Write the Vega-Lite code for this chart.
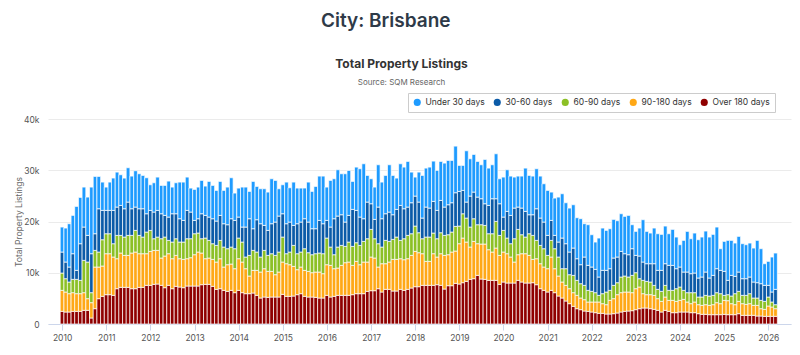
{
"$schema":"https://vega.github.io/schema/vega-lite/v6.json",
"background":"white",
"padding":{"left":14,"top":11,"right":5,"bottom":6},
"title":{"text":"City: Brisbane","fontSize":19,"fontWeight":600,"font":"Inter","color":"#2e3a48","anchor":"middle","offset":27.5,"dx":-17},
"config":{"view":{"stroke":null},"font":"Inter"},
"datasets":{
"series":[{"k":"o180","label":"Over 180 days","rank":1},{"k":"d90","label":"90-180 days","rank":2},{"k":"d60","label":"60-90 days","rank":3},{"k":"d30","label":"30-60 days","rank":4},{"k":"u30","label":"Under 30 days","rank":5}],
"listings":[
{"date":"2010-01-01","o180":2470,"d90":4095,"d60":3380,"d30":4095,"u30":4875},
{"date":"2010-02-01","o180":2340,"d90":3900,"d60":2600,"d30":3250,"u30":6630},
{"date":"2010-03-01","o180":2340,"d90":3575,"d60":2275,"d30":2925,"u30":8450},
{"date":"2010-04-01","o180":2470,"d90":3640,"d60":2600,"d30":5005,"u30":7475},
{"date":"2010-05-01","o180":2470,"d90":3445,"d60":2795,"d30":1755,"u30":12480},
{"date":"2010-06-01","o180":2470,"d90":3445,"d60":2600,"d30":7150,"u30":9035},
{"date":"2010-07-01","o180":2665,"d90":3445,"d60":6305,"d30":6500,"u30":7800},
{"date":"2010-08-01","o180":2665,"d90":2275,"d60":7150,"d30":5200,"u30":7475},
{"date":"2010-09-01","o180":1170,"d90":2990,"d60":1950,"d30":7605,"u30":13000},
{"date":"2010-10-01","o180":2990,"d90":8125,"d60":3250,"d30":3250,"u30":11180},
{"date":"2010-11-01","o180":4940,"d90":6175,"d60":2925,"d30":8450,"u30":6305},
{"date":"2010-12-01","o180":5395,"d90":5915,"d60":5135,"d30":5720,"u30":5525},
{"date":"2011-01-01","o180":5720,"d90":7995,"d60":3900,"d30":4550,"u30":4550},
{"date":"2011-02-01","o180":5720,"d90":7995,"d60":3900,"d30":4550,"u30":5525},
{"date":"2011-03-01","o180":5590,"d90":7475,"d60":2600,"d30":6500,"u30":6305},
{"date":"2011-04-01","o180":6890,"d90":5850,"d60":4550,"d30":5525,"u30":6825},
{"date":"2011-05-01","o180":7150,"d90":6695,"d60":3445,"d30":5850,"u30":5980},
{"date":"2011-06-01","o180":7150,"d90":6240,"d60":3575,"d30":5525,"u30":5980},
{"date":"2011-07-01","o180":7150,"d90":6240,"d60":3900,"d30":6500,"u30":6695},
{"date":"2011-08-01","o180":6890,"d90":6955,"d60":3445,"d30":5200,"u30":6370},
{"date":"2011-09-01","o180":6890,"d90":7150,"d60":4225,"d30":4550,"u30":7085},
{"date":"2011-10-01","o180":7150,"d90":6565,"d60":3575,"d30":5200,"u30":6825},
{"date":"2011-11-01","o180":7150,"d90":6565,"d60":3250,"d30":5525,"u30":6500},
{"date":"2011-12-01","o180":7540,"d90":6175,"d60":4225,"d30":3575,"u30":7020},
{"date":"2012-01-01","o180":7540,"d90":6630,"d60":4095,"d30":3900,"u30":5005},
{"date":"2012-02-01","o180":7735,"d90":6630,"d60":2275,"d30":5200,"u30":5720},
{"date":"2012-03-01","o180":7800,"d90":6565,"d60":2600,"d30":5200,"u30":6500},
{"date":"2012-04-01","o180":7540,"d90":5330,"d60":3770,"d30":4875,"u30":5525},
{"date":"2012-05-01","o180":7085,"d90":6175,"d60":3705,"d30":4225,"u30":5850},
{"date":"2012-06-01","o180":7540,"d90":6175,"d60":2600,"d30":4550,"u30":7020},
{"date":"2012-07-01","o180":6890,"d90":5850,"d60":3250,"d30":5525,"u30":5200},
{"date":"2012-08-01","o180":7345,"d90":6045,"d60":3250,"d30":4875,"u30":6045},
{"date":"2012-09-01","o180":7215,"d90":5525,"d60":3250,"d30":4550,"u30":7150},
{"date":"2012-10-01","o180":7085,"d90":5525,"d60":3380,"d30":4225,"u30":7475},
{"date":"2012-11-01","o180":7410,"d90":5330,"d60":3900,"d30":5525,"u30":6500},
{"date":"2012-12-01","o180":7410,"d90":5525,"d60":3705,"d30":5200,"u30":4680},
{"date":"2013-01-01","o180":7410,"d90":6110,"d60":4095,"d30":2600,"u30":6045},
{"date":"2013-02-01","o180":7410,"d90":6630,"d60":3705,"d30":2795,"u30":6175},
{"date":"2013-03-01","o180":7670,"d90":6175,"d60":2795,"d30":4875,"u30":6500},
{"date":"2013-04-01","o180":7735,"d90":5005,"d60":4030,"d30":4420,"u30":5720},
{"date":"2013-05-01","o180":7735,"d90":5135,"d60":3445,"d30":4550,"u30":6955},
{"date":"2013-06-01","o180":7345,"d90":5265,"d60":3055,"d30":4875,"u30":6500},
{"date":"2013-07-01","o180":6760,"d90":5330,"d60":3250,"d30":4745,"u30":5980},
{"date":"2013-08-01","o180":6890,"d90":5850,"d60":3575,"d30":4875,"u30":6630},
{"date":"2013-09-01","o180":6565,"d90":4550,"d60":3900,"d30":4550,"u30":6500},
{"date":"2013-10-01","o180":6370,"d90":5200,"d60":3120,"d30":4680,"u30":7345},
{"date":"2013-11-01","o180":6565,"d90":5135,"d60":3315,"d30":5525,"u30":7995},
{"date":"2013-12-01","o180":6110,"d90":4680,"d60":3900,"d30":5525,"u30":5330},
{"date":"2014-01-01","o180":6565,"d90":6175,"d60":4030,"d30":4095,"u30":5655},
{"date":"2014-02-01","o180":6110,"d90":5980,"d60":3900,"d30":2925,"u30":7800},
{"date":"2014-03-01","o180":5915,"d90":4875,"d60":2275,"d30":5850,"u30":7800},
{"date":"2014-04-01","o180":5915,"d90":3445,"d60":4030,"d30":7150,"u30":5330},
{"date":"2014-05-01","o180":6045,"d90":4420,"d60":3900,"d30":4225,"u30":9230},
{"date":"2014-06-01","o180":5590,"d90":4875,"d60":3575,"d30":6305,"u30":6500},
{"date":"2014-07-01","o180":5070,"d90":5070,"d60":2925,"d30":6500,"u30":6825},
{"date":"2014-08-01","o180":5265,"d90":5525,"d60":3575,"d30":4875,"u30":7150},
{"date":"2014-09-01","o180":5200,"d90":5070,"d60":3120,"d30":4875,"u30":7475},
{"date":"2014-10-01","o180":5265,"d90":5005,"d60":3445,"d30":5850,"u30":8775},
{"date":"2014-11-01","o180":5265,"d90":4355,"d60":3770,"d30":6500,"u30":8125},
{"date":"2014-12-01","o180":5265,"d90":4875,"d60":3900,"d30":7020,"u30":5330},
{"date":"2015-01-01","o180":5785,"d90":6305,"d60":4875,"d30":4550,"u30":5655},
{"date":"2015-02-01","o180":5395,"d90":6370,"d60":1950,"d30":5850,"u30":8125},
{"date":"2015-03-01","o180":5395,"d90":6175,"d60":2470,"d30":5850,"u30":6695},
{"date":"2015-04-01","o180":5460,"d90":5785,"d60":4095,"d30":3900,"u30":8450},
{"date":"2015-05-01","o180":5720,"d90":4875,"d60":3120,"d30":5850,"u30":6955},
{"date":"2015-06-01","o180":5915,"d90":5200,"d60":2925,"d30":5850,"u30":6630},
{"date":"2015-07-01","o180":5395,"d90":5070,"d60":4225,"d30":5850,"u30":5980},
{"date":"2015-08-01","o180":5265,"d90":5005,"d60":3640,"d30":5980,"u30":7800},
{"date":"2015-09-01","o180":5265,"d90":4745,"d60":3510,"d30":5070,"u30":7280},
{"date":"2015-10-01","o180":5200,"d90":4940,"d60":3575,"d30":4875,"u30":8255},
{"date":"2015-11-01","o180":5070,"d90":5070,"d60":3705,"d30":6370,"u30":8645},
{"date":"2015-12-01","o180":5070,"d90":4745,"d60":3900,"d30":5850,"u30":9295},
{"date":"2016-01-01","o180":5590,"d90":5980,"d60":5200,"d30":3445,"u30":6500},
{"date":"2016-02-01","o180":5265,"d90":6175,"d60":3575,"d30":3900,"u30":9100},
{"date":"2016-03-01","o180":5395,"d90":5395,"d60":2730,"d30":7020,"u30":7800},
{"date":"2016-04-01","o180":5590,"d90":5330,"d60":4095,"d30":6045,"u30":9035},
{"date":"2016-05-01","o180":5590,"d90":5850,"d60":3900,"d30":5980,"u30":7995},
{"date":"2016-06-01","o180":5590,"d90":6370,"d60":3185,"d30":4745,"u30":9425},
{"date":"2016-07-01","o180":5590,"d90":6500,"d60":3900,"d30":5200,"u30":8775},
{"date":"2016-08-01","o180":5720,"d90":5720,"d60":3705,"d30":7215,"u30":5460},
{"date":"2016-09-01","o180":5915,"d90":6305,"d60":3640,"d30":6305,"u30":8450},
{"date":"2016-10-01","o180":5915,"d90":5655,"d60":3770,"d30":5525,"u30":9425},
{"date":"2016-11-01","o180":5915,"d90":6175,"d60":4030,"d30":4420,"u30":10725},
{"date":"2016-12-01","o180":6370,"d90":5720,"d60":4550,"d30":7150,"u30":5200},
{"date":"2017-01-01","o180":6500,"d90":6565,"d60":5395,"d30":5005,"u30":4875},
{"date":"2017-02-01","o180":6500,"d90":6370,"d60":3770,"d30":3770,"u30":6305},
{"date":"2017-03-01","o180":6890,"d90":4225,"d60":4550,"d30":7150,"u30":8255},
{"date":"2017-04-01","o180":6240,"d90":5525,"d60":3250,"d30":5525,"u30":7150},
{"date":"2017-05-01","o180":6760,"d90":5005,"d60":4550,"d30":5200,"u30":7475},
{"date":"2017-06-01","o180":6760,"d90":5330,"d60":4030,"d30":5720,"u30":9230},
{"date":"2017-07-01","o180":6435,"d90":6175,"d60":3900,"d30":4810,"u30":7670},
{"date":"2017-08-01","o180":6435,"d90":6175,"d60":4355,"d30":5395,"u30":6110},
{"date":"2017-09-01","o180":6760,"d90":5980,"d60":3575,"d30":6825,"u30":8125},
{"date":"2017-10-01","o180":6565,"d90":5980,"d60":4095,"d30":5850,"u30":8125},
{"date":"2017-11-01","o180":6760,"d90":5980,"d60":4550,"d30":5525,"u30":8905},
{"date":"2017-12-01","o180":7020,"d90":6370,"d60":4225,"d30":6045,"u30":5980},
{"date":"2018-01-01","o180":7280,"d90":6890,"d60":4940,"d30":5850,"u30":3705},
{"date":"2018-02-01","o180":7280,"d90":6630,"d60":3900,"d30":5980,"u30":5850},
{"date":"2018-03-01","o180":7540,"d90":6175,"d60":2925,"d30":4030,"u30":8320},
{"date":"2018-04-01","o180":7540,"d90":4680,"d60":4745,"d30":5850,"u30":7605},
{"date":"2018-05-01","o180":7540,"d90":4680,"d60":4745,"d30":5655,"u30":7995},
{"date":"2018-06-01","o180":7540,"d90":6175,"d60":4030,"d30":6175,"u30":7865},
{"date":"2018-07-01","o180":7670,"d90":5395,"d60":3575,"d30":5525,"u30":7800},
{"date":"2018-08-01","o180":7540,"d90":6175,"d60":4095,"d30":6305,"u30":7605},
{"date":"2018-09-01","o180":6825,"d90":6565,"d60":3900,"d30":5525,"u30":8580},
{"date":"2018-10-01","o180":7475,"d90":6045,"d60":3900,"d30":5850,"u30":8645},
{"date":"2018-11-01","o180":7475,"d90":6565,"d60":3900,"d30":5720,"u30":8255},
{"date":"2018-12-01","o180":7930,"d90":6305,"d60":4810,"d30":6565,"u30":9100},
{"date":"2019-01-01","o180":7800,"d90":7865,"d60":3445,"d30":6760,"u30":5070},
{"date":"2019-02-01","o180":8060,"d90":8710,"d60":4745,"d30":4550,"u30":4875},
{"date":"2019-03-01","o180":8320,"d90":7670,"d60":4680,"d30":3120,"u30":10010},
{"date":"2019-04-01","o180":8710,"d90":6305,"d60":3900,"d30":6045,"u30":7280},
{"date":"2019-05-01","o180":8840,"d90":7280,"d60":4420,"d30":5200,"u30":7345},
{"date":"2019-06-01","o180":9490,"d90":6175,"d60":3705,"d30":5395,"u30":6955},
{"date":"2019-07-01","o180":8775,"d90":6825,"d60":3770,"d30":5070,"u30":6630},
{"date":"2019-08-01","o180":8710,"d90":6890,"d60":3640,"d30":4225,"u30":8645},
{"date":"2019-09-01","o180":8515,"d90":5980,"d60":3120,"d30":5525,"u30":7280},
{"date":"2019-10-01","o180":8515,"d90":5525,"d60":3575,"d30":6825,"u30":6630},
{"date":"2019-11-01","o180":8515,"d90":6305,"d60":5200,"d30":4420,"u30":8775},
{"date":"2019-12-01","o180":7735,"d90":5655,"d60":3900,"d30":6175,"u30":4875},
{"date":"2020-01-01","o180":8190,"d90":5850,"d60":4225,"d30":2600,"u30":7800},
{"date":"2020-02-01","o180":7995,"d90":5720,"d60":3055,"d30":5200,"u30":8125},
{"date":"2020-03-01","o180":7995,"d90":5070,"d60":2600,"d30":5525,"u30":7670},
{"date":"2020-04-01","o180":7995,"d90":4095,"d60":4550,"d30":5980,"u30":6045},
{"date":"2020-05-01","o180":8515,"d90":5005,"d60":4940,"d30":4355,"u30":6045},
{"date":"2020-06-01","o180":8190,"d90":5525,"d60":3705,"d30":5200,"u30":6240},
{"date":"2020-07-01","o180":7995,"d90":5720,"d60":3250,"d30":5005,"u30":8450},
{"date":"2020-08-01","o180":7995,"d90":5395,"d60":4225,"d30":3705,"u30":7670},
{"date":"2020-09-01","o180":8060,"d90":4550,"d60":4680,"d30":4030,"u30":7540},
{"date":"2020-10-01","o180":7670,"d90":5070,"d60":3575,"d30":6175,"u30":7800},
{"date":"2020-11-01","o180":6890,"d90":4875,"d60":3575,"d30":5330,"u30":8190},
{"date":"2020-12-01","o180":6565,"d90":4550,"d60":3575,"d30":5200,"u30":7475},
{"date":"2021-01-01","o180":6240,"d90":4550,"d60":2600,"d30":3900,"u30":8775},
{"date":"2021-02-01","o180":6565,"d90":6500,"d60":3250,"d30":3900,"u30":5525},
{"date":"2021-03-01","o180":6110,"d90":4680,"d60":3900,"d30":2600,"u30":7280},
{"date":"2021-04-01","o180":5460,"d90":3900,"d60":3705,"d30":2925,"u30":8775},
{"date":"2021-05-01","o180":5070,"d90":3120,"d60":2600,"d30":5980,"u30":8645},
{"date":"2021-06-01","o180":4485,"d90":3055,"d60":3250,"d30":4875,"u30":7995},
{"date":"2021-07-01","o180":3965,"d90":2925,"d60":2730,"d30":4420,"u30":8580},
{"date":"2021-08-01","o180":3445,"d90":2665,"d60":3380,"d30":5330,"u30":8450},
{"date":"2021-09-01","o180":2990,"d90":2600,"d60":2925,"d30":4225,"u30":7995},
{"date":"2021-10-01","o180":2795,"d90":2275,"d60":2795,"d30":3705,"u30":8970},
{"date":"2021-11-01","o180":2535,"d90":2210,"d60":2795,"d30":5525,"u30":6500},
{"date":"2021-12-01","o180":2470,"d90":1820,"d60":2275,"d30":4875,"u30":7930},
{"date":"2022-01-01","o180":2340,"d90":1950,"d60":2080,"d30":4745,"u30":6305},
{"date":"2022-02-01","o180":2210,"d90":2080,"d60":1820,"d30":4550,"u30":5330},
{"date":"2022-03-01","o180":2080,"d90":2210,"d60":1300,"d30":3575,"u30":7605},
{"date":"2022-04-01","o180":2080,"d90":1885,"d60":1950,"d30":4550,"u30":8255},
{"date":"2022-05-01","o180":1950,"d90":1820,"d60":2470,"d30":4225,"u30":7800},
{"date":"2022-06-01","o180":1950,"d90":2665,"d60":1950,"d30":4225,"u30":7800},
{"date":"2022-07-01","o180":2015,"d90":2925,"d60":2600,"d30":5330,"u30":7540},
{"date":"2022-08-01","o180":2145,"d90":3575,"d60":2340,"d30":5005,"u30":7085},
{"date":"2022-09-01","o180":2340,"d90":3770,"d60":3055,"d30":5005,"u30":7345},
{"date":"2022-10-01","o180":2470,"d90":3770,"d60":3120,"d30":4355,"u30":7280},
{"date":"2022-11-01","o180":2535,"d90":3705,"d60":2925,"d30":4355,"u30":7670},
{"date":"2022-12-01","o180":2600,"d90":3510,"d60":3380,"d30":5200,"u30":4680},
{"date":"2023-01-01","o180":2795,"d90":4095,"d60":3120,"d30":3380,"u30":4680},
{"date":"2023-02-01","o180":2990,"d90":4225,"d60":1625,"d30":4420,"u30":5460},
{"date":"2023-03-01","o180":3120,"d90":2795,"d60":2600,"d30":3575,"u30":8255},
{"date":"2023-04-01","o180":3120,"d90":2600,"d60":2600,"d30":3445,"u30":6305},
{"date":"2023-05-01","o180":2990,"d90":2730,"d60":2470,"d30":3575,"u30":5980},
{"date":"2023-06-01","o180":2860,"d90":2730,"d60":1950,"d30":4225,"u30":6955},
{"date":"2023-07-01","o180":2665,"d90":2275,"d60":1820,"d30":3705,"u30":7150},
{"date":"2023-08-01","o180":2340,"d90":2080,"d60":1950,"d30":4095,"u30":7020},
{"date":"2023-09-01","o180":2665,"d90":2600,"d60":2275,"d30":4225,"u30":7345},
{"date":"2023-10-01","o180":2470,"d90":2145,"d60":1950,"d30":4875,"u30":6175},
{"date":"2023-11-01","o180":2210,"d90":2405,"d60":1950,"d30":4875,"u30":7020},
{"date":"2023-12-01","o180":2210,"d90":2210,"d60":2470,"d30":3900,"u30":6175},
{"date":"2024-01-01","o180":2340,"d90":2275,"d60":2600,"d30":3900,"u30":4355},
{"date":"2024-02-01","o180":2340,"d90":2470,"d60":1755,"d30":3575,"u30":6175},
{"date":"2024-03-01","o180":2340,"d90":1950,"d60":1820,"d30":4030,"u30":7930},
{"date":"2024-04-01","o180":2210,"d90":1755,"d60":2145,"d30":3705,"u30":6825},
{"date":"2024-05-01","o180":2210,"d90":2080,"d60":1820,"d30":3835,"u30":7800},
{"date":"2024-06-01","o180":2015,"d90":1755,"d60":1495,"d30":3705,"u30":7475},
{"date":"2024-07-01","o180":1885,"d90":1755,"d60":1625,"d30":3900,"u30":7800},
{"date":"2024-08-01","o180":1885,"d90":1885,"d60":1820,"d30":4550,"u30":7995},
{"date":"2024-09-01","o180":1820,"d90":1820,"d60":1820,"d30":3510,"u30":7995},
{"date":"2024-10-01","o180":1820,"d90":1950,"d60":1820,"d30":3900,"u30":7995},
{"date":"2024-11-01","o180":1820,"d90":2340,"d60":1950,"d30":4680,"u30":8125},
{"date":"2024-12-01","o180":1820,"d90":2145,"d60":1950,"d30":4550,"u30":4225},
{"date":"2025-01-01","o180":1885,"d90":2730,"d60":975,"d30":4680,"u30":5850},
{"date":"2025-02-01","o180":1820,"d90":2730,"d60":1170,"d30":2795,"u30":7800},
{"date":"2025-03-01","o180":1820,"d90":2145,"d60":1495,"d30":4030,"u30":6825},
{"date":"2025-04-01","o180":1820,"d90":1950,"d60":2145,"d30":3380,"u30":6500},
{"date":"2025-05-01","o180":2015,"d90":2405,"d60":1950,"d30":3770,"u30":6955},
{"date":"2025-06-01","o180":1690,"d90":2275,"d60":1625,"d30":3250,"u30":6825},
{"date":"2025-07-01","o180":1690,"d90":2145,"d60":1755,"d30":3250,"u30":6630},
{"date":"2025-08-01","o180":1690,"d90":2275,"d60":1950,"d30":3250,"u30":6630},
{"date":"2025-09-01","o180":1690,"d90":1950,"d60":1430,"d30":3120,"u30":6630},
{"date":"2025-10-01","o180":1560,"d90":2080,"d60":1430,"d30":2990,"u30":8255},
{"date":"2025-11-01","o180":1560,"d90":1430,"d60":1625,"d30":3250,"u30":6825},
{"date":"2025-12-01","o180":1495,"d90":1365,"d60":1560,"d30":3120,"u30":4225},
{"date":"2026-01-01","o180":1495,"d90":2015,"d60":1755,"d30":2275,"u30":4680},
{"date":"2026-02-01","o180":1495,"d90":1820,"d60":975,"d30":1950,"u30":6825},
{"date":"2026-03-01","o180":1495,"d90":1495,"d60":780,"d30":2990,"u30":7085}
]},
"vconcat":[{
"width":743,"height":205,
"title":{"text":"Total Property Listings","subtitle":"Source: SQM Research","fontSize":12,"fontWeight":"bold","color":"#333333","subtitleFontSize":8,"subtitleColor":"#666666","subtitlePadding":8,"anchor":"middle","offset":27,"dx":-18},
"data":{"name":"listings"},
"transform":[
{"fold":["o180","d90","d60","d30","u30"],"as":["k","listings"]},
{"lookup":"k","from":{"data":{"name":"series"},"key":"k","fields":["label","rank"]}}
],
"mark":{"type":"bar","width":3.7,"stroke":"white","strokeWidth":0.7},
"encoding":{
"x":{"field":"date","type":"temporal","title":null,
"scale":{"type":"utc","domain":[{"year":2009,"month":10,"date":18,"utc":true},{"year":2026,"month":5,"date":27,"utc":true}]},
"axis":{"format":"%Y","values":[{"year":2010,"utc":true},{"year":2011,"utc":true},{"year":2012,"utc":true},{"year":2013,"utc":true},{"year":2014,"utc":true},{"year":2015,"utc":true},{"year":2016,"utc":true},{"year":2017,"utc":true},{"year":2018,"utc":true},{"year":2019,"utc":true},{"year":2020,"utc":true},{"year":2021,"utc":true},{"year":2022,"utc":true},{"year":2023,"utc":true},{"year":2024,"utc":true},{"year":2025,"utc":true},{"year":2026,"utc":true}],
"labelFontSize":8.5,"labelColor":"#555555","domainColor":"#ccd6eb","tickColor":"#ccd6eb","tickSize":6,"grid":false,"labelPadding":3,"labelFlush":false,"labelOverlap":false}},
"y":{"field":"listings","type":"quantitative","stack":"zero",
"scale":{"domain":[0,40000],"nice":false},
"axis":{"title":"Total Property Listings","titleFontSize":8.5,"titleFontWeight":"normal","titleColor":"#666666","titlePadding":0,"values":[0,10000,20000,30000,40000],"labelExpr":"datum.value == 0 ? '0' : format(datum.value / 1000, 'd') + 'k'","labelFontSize":8.5,"labelColor":"#555555","domain":false,"ticks":false,"gridColor":"#ebebeb","labelPadding":9}},
"color":{"field":"label","type":"nominal",
"scale":{"domain":["Under 30 days","30-60 days","60-90 days","90-180 days","Over 180 days"],"range":["#1e9bff","#0b5ba8","#8cc026","#ffa816","#8f0000"]},
"legend":{"orient":"none","legendX":360,"legendY":-26,"direction":"horizontal","title":null,"symbolType":"circle","symbolSize":50,"symbolStrokeWidth":0,"labelFontSize":8.5,"labelColor":"#333333","strokeColor":"#cccccc","padding":5,"columnPadding":8,"labelOffset":4,"fillColor":"white"}},
"order":{"field":"rank","type":"quantitative","sort":"ascending"}
}
}]
}
